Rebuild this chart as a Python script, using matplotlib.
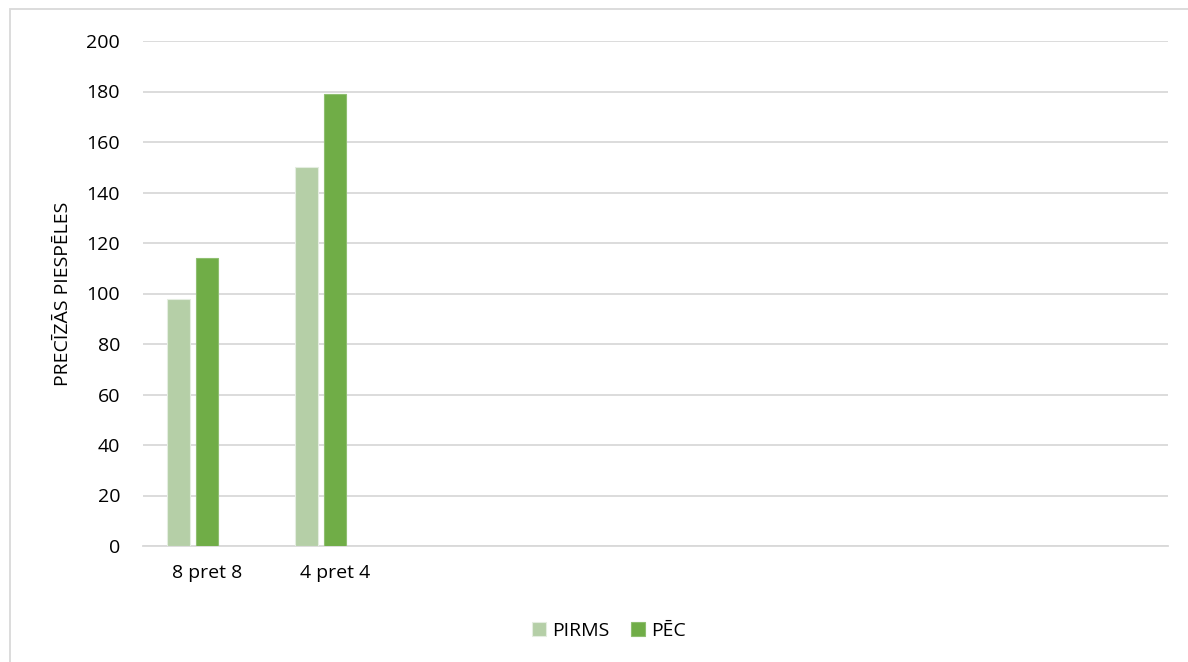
import matplotlib.pyplot as plt
import numpy as np
from matplotlib.patches import Rectangle

plt.rcParams['font.family'] = ['Open Sans', 'DejaVu Sans']

# categories (the chart reserves 8 slots, only two are filled)
categories = ["8 pret 8", "4 pret 4", "", "", "", "", "", ""]
pirms = [98, 150]
pec = [114, 179]
series_names = ["PIRMS", "PĒC"]
yticks = [0, 20, 40, 60, 80, 100, 120, 140, 160, 180, 200]

c_pirms = "#b5cfa7"
c_pec = "#70ad47"

fig = plt.figure(figsize=(11.88, 6.62), dpi=100)
ax = fig.add_axes([143/1188, 1 - 546/662, (1168 - 143)/1188, (546 - 41)/662])

# outer chart border
fig.patches.append(Rectangle((10/1188, -0.1), 1.2, 1 - 9/662 + 0.1,
                             transform=fig.transFigure, fill=False,
                             edgecolor="#d9d9d9", linewidth=1.3))

x = np.arange(len(pirms))
w = 0.176
step = 0.222
ax.bar(x - step, pirms, width=w, color=c_pirms, edgecolor="#e4ede0",
       linewidth=0.8, label=series_names[0], zorder=3)
ax.bar(x, pec, width=w, color=c_pec, edgecolor="#8fbf70",
       linewidth=0.8, label=series_names[1], zorder=3)

ax.set_xlim(-0.5, len(categories) - 0.5)
ax.set_ylim(0, 200)
ax.set_yticks(yticks)
ax.set_xticks(np.arange(len(categories)))
ax.set_xticklabels(categories)
ax.tick_params(axis="both", length=0, labelsize=14, colors="#000000")
ax.tick_params(axis="x", pad=13)
ax.tick_params(axis="y", pad=16.5)
ax.grid(axis="y", color="#d9d9d9", linewidth=1.3, zorder=0)
for s in ["top", "right", "left"]:
    ax.spines[s].set_visible(False)
ax.spines["bottom"].set_color("#d9d9d9")
ax.spines["bottom"].set_linewidth(1.3)

ax.set_ylabel("PRECĪZĀS PIESPĒLES", fontsize=14)
ax.yaxis.set_label_coords(-(143 - 72)/1025, 0.5)

fig.legend(loc="center", bbox_to_anchor=(609/1188, 1 - 631/662), ncol=2,
           frameon=False, fontsize=14, handlelength=0.7, handleheight=0.7,
           handletextpad=0.35, columnspacing=1.1)

fig.savefig("out.png", dpi=100)
